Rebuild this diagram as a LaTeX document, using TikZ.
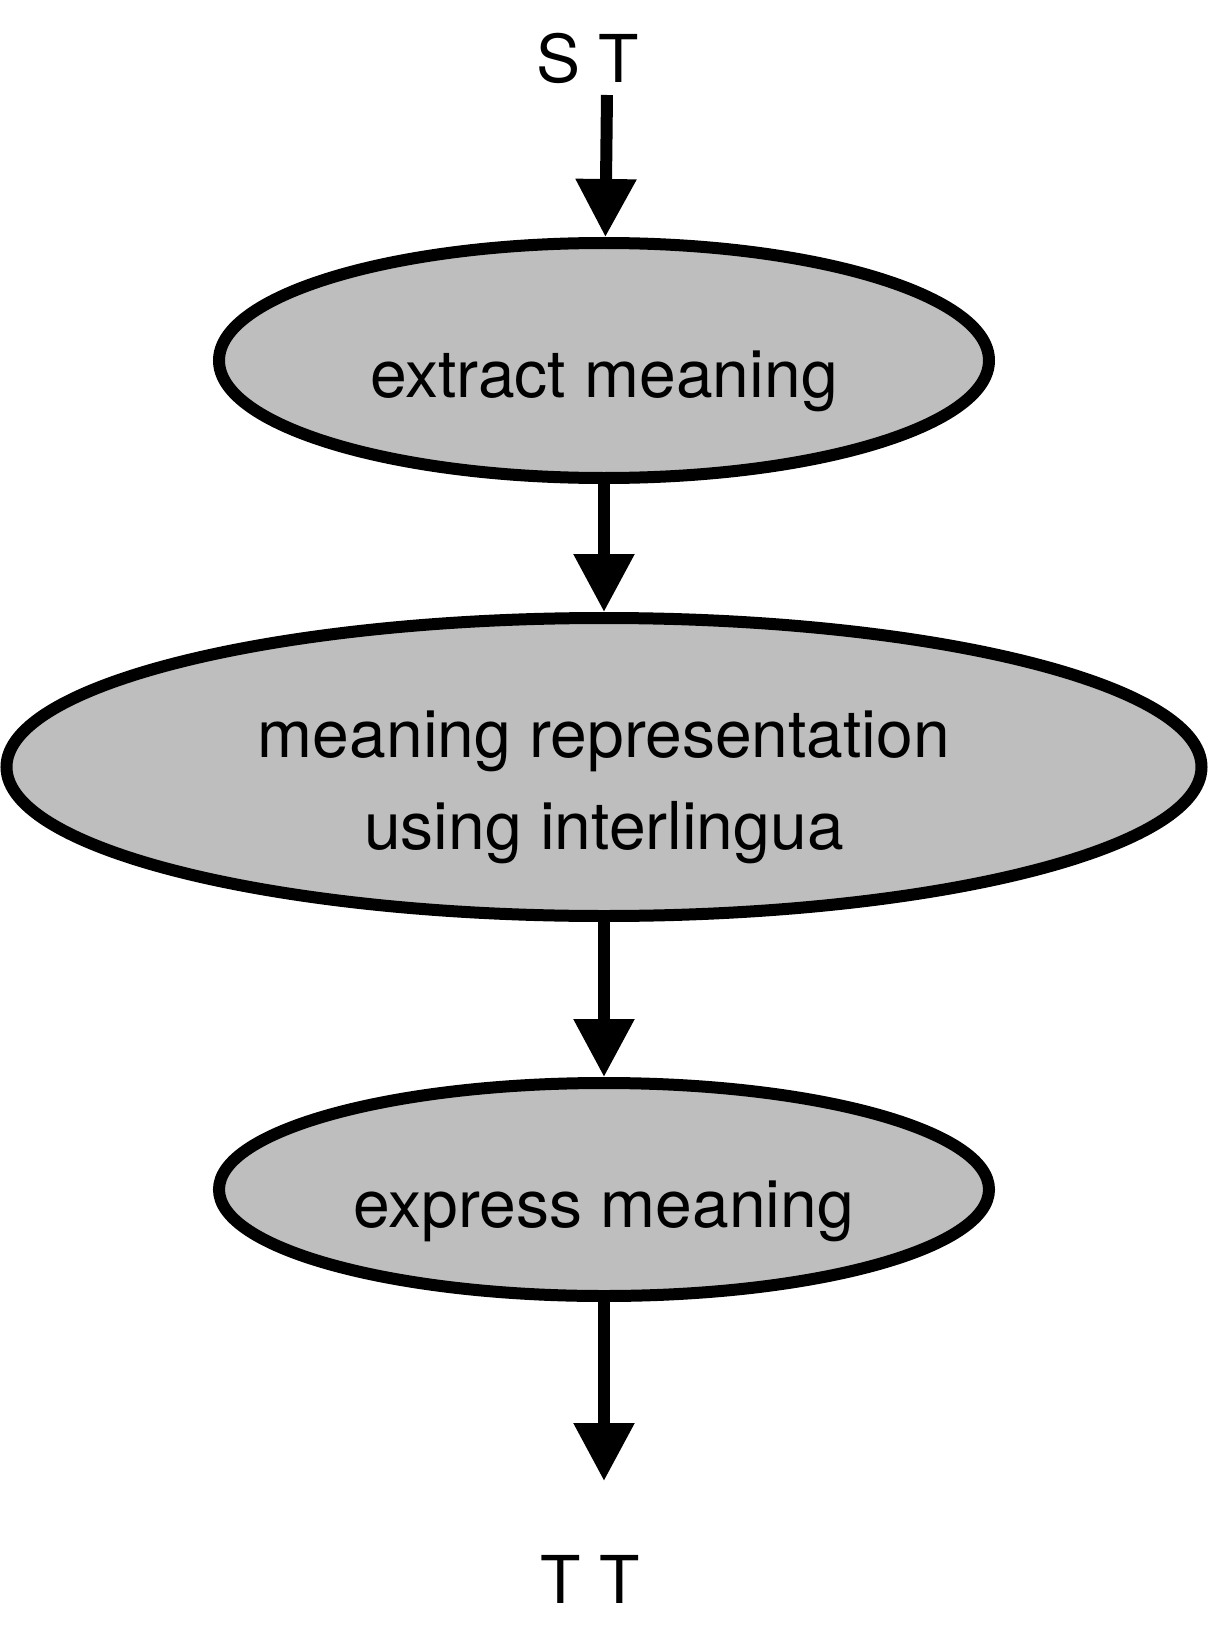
\documentclass[tikz,border=0pt]{standalone}
\usepackage{fontspec}
\setmainfont{TeX Gyre Heros}
\usepackage{tikz}
\usetikzlibrary{positioning,shapes.geometric,arrows.meta}
\definecolor{stagegray}{RGB}{190,190,190}

\begin{document}
\begin{tikzpicture}[
  every node/.style={font=\fontsize{33}{46}\selectfont},
  stage/.style={ellipse, draw, fill=stagegray, line width=6pt, inner sep=0pt, text depth=0pt},
  flow/.style={line width=6pt, -{Triangle[width=29pt, length=29pt]}}
]
\useasboundingbox (-302pt,-636.25pt) rectangle (304pt,180.25pt);
\node[stage, minimum width=385pt, minimum height=117.5pt, text height=36.5pt] (extract) at (0,0) {extract meaning};
\node[stage, minimum width=597.5pt, minimum height=149pt, text height=82pt, align=center, below=64pt of extract] (interl) {meaning representation\\using interlingua};
\node[stage, minimum width=385pt, minimum height=106.5pt, text height=38pt, below=77.5pt of interl] (express) {express meaning};
\node[anchor=base] (st) at (-8pt,138.75pt) {S T};
\node[anchor=base] (tt) at ([xshift=-7pt,yshift=-206.75pt]express.center) {T T};
\coordinate (src) at (1.5pt,132.75pt);
\coordinate (dst) at ([yshift=-145.75pt]express.center);
\draw[flow] (src) -- (extract);
\draw[flow] (extract) -- (interl);
\draw[flow] (interl) -- (express);
\draw[flow] (express) -- (dst);
\end{tikzpicture}
\end{document}
